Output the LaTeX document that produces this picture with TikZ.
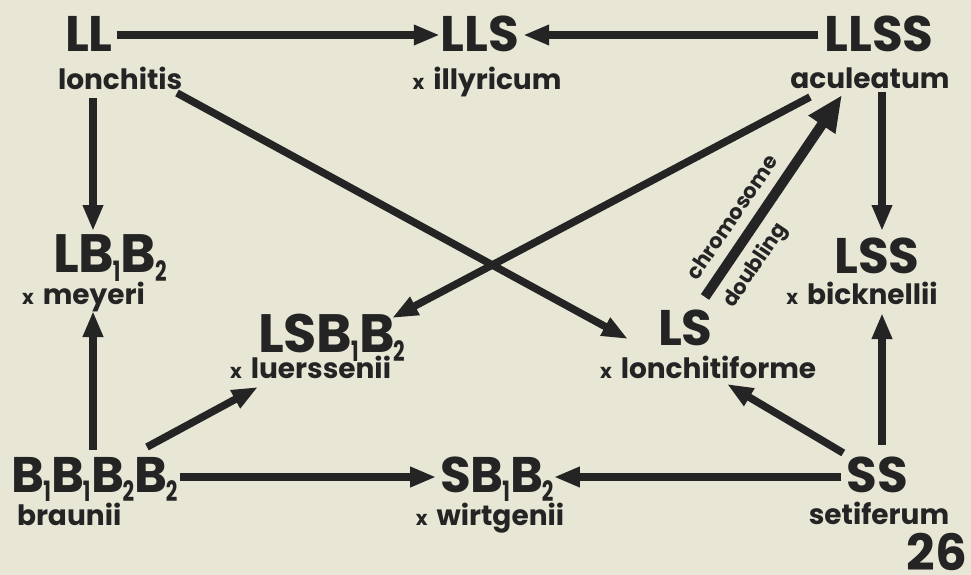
\documentclass[tikz,border=0pt]{standalone}
\usepackage{fontspec}
\setmainfont{Poppins}
\usetikzlibrary{arrows.meta,calc}
\definecolor{bg}{RGB}{232,230,213}
\definecolor{ink}{RGB}{36,36,36}
\newcommand\sbd[1]{\kern-1.5pt\raisebox{-9pt}{\scalebox{0.72}[1]{\fontsize{28}{28}\selectfont #1}}\kern0.5pt}
\newcommand\xx{{\fontsize{20}{20}\selectfont x}\hspace{9pt}}
\begin{document}
\begin{tikzpicture}[x=1pt,y=-1pt,
  frm/.style={inner sep=0pt, outer sep=0pt, text=ink, font=\fontsize{50}{50}\selectfont\bfseries},
  frmb/.style={frm, font=\fontsize{54}{54}\selectfont\bfseries},
  lab/.style={inner sep=0pt, outer sep=0pt, text=ink, font=\fontsize{28}{28}\selectfont\bfseries},
  cdlab/.style={inner sep=0pt, text=ink, rotate=56, align=center, font=\fontsize{21}{45}\selectfont\bfseries},
  arr/.style={draw=ink, line width=7.5pt, -{Triangle[length=26pt,width=19pt]}},
  thickarr/.style={draw=ink, line width=10pt, -{Triangle[length=36pt,width=30pt]}}]
\fill[bg] (0,0) rectangle (971,575);
\useasboundingbox (0,0) rectangle (971,575);

% nodes
\node[frm, anchor=base west] (LL) at (65,52) {LL};
\node[lab, anchor=base west] (lonch) at (58,90) {lonchitis};
\node[frm, anchor=base] (LLS) at (480,52) {LLS};
\node[lab, anchor=base] (illy) at (487,90) {\xx illyricum};
\node[frm, anchor=base] (LLSS) at (879,52) {LLSS};
\node[lab, anchor=base] (acul) at (870,89) {aculeatum};
\node[frmb, anchor=base west] (LB) at (53,272) {LB\sbd1B\sbd2};
\node[lab, anchor=base west] (mey) at (22,304) {\xx meyeri};
\node[frmb, anchor=base west] (LSB) at (258,352) {LSB\sbd1B\sbd2};
\node[lab, anchor=base west] (luer) at (230,378) {\xx luerssenii};
\node[frm, anchor=base west] (LS) at (658,345) {LS};
\node[lab, anchor=base west] (lonf) at (600,378) {\xx lonchitiforme};
\node[frm, anchor=base] (LSS) at (877,273) {LSS};
\node[lab, anchor=base] (bick) at (862,304) {\xx bicknellii};
\node[frm, anchor=base west] (BB) at (12,492) {B\sbd1B\sbd1B\sbd2B\sbd2};
\node[lab, anchor=base west] (brau) at (17,525) {braunii};
\node[frm, anchor=base] (SB) at (497,492) {SB\sbd1B\sbd2};
\node[lab, anchor=base] (wirt) at (490,525) {\xx wirtgenii};
\node[frm, anchor=base] (SS) at (877,492) {SS};
\node[lab, anchor=base] (seti) at (879,524) {setiferum};
\node[frm, anchor=base east] (pg) at (967,570) {26};

% connectors
\draw[arr] ($(LL.base east)+(4,-17)$) -- ($(LLS.base west)+(-1,-17)$);
\draw[arr] ($(LLSS.base west)+(-6,-17)$) -- ($(LLS.base east)+(4,-17)$);
\draw[arr] ($(LL.base west)+(28,46)$) -- ($(LB.base west)+(40,-41)$);
\draw[arr] ($(BB.base west)+(81,-42)$) -- ($(mey.base west)+(71,7)$);
\draw[arr] ($(BB.base west)+(135,-45)$) -- ($(luer.base west)+(28,9)$);
\draw[arr] ($(BB.base east)+(2,-15)$) -- ($(SB.base west)+(-4,-15)$);
\draw[arr] ($(SS.base west)+(-5,-15)$) -- ($(SB.base east)+(0,-15)$);
\draw[arr] ($(SS.base west)+(-3,-39)$) -- ($(lonf.base west)+(127,6)$);
\draw[arr] ($(SS.base)+(5,-47)$) -- ($(bick.base)+(20,9)$);
\draw[arr] ($(acul.base)+(12,3)$) -- ($(LSS.base)+(5,-42)$);
\draw[arr] ($(acul.base)+(-60,8)$) -- ($(LSB.base west)+(134,-34)$);
\draw[arr] ($(lonch.base west)+(119,3)$) -- ($(lonf.base west)+(28,-39)$);
\draw[thickarr] ($(LS.base west)+(47,-48)$) -- ($(LLSS.base)+(-37,43)$);

% label of the doubling arrow
\node[cdlab] (cd) at ($(LS.base west)+(95,-114)$) {chromosome\\doubling\hspace*{54pt}};
\end{tikzpicture}
\end{document}
